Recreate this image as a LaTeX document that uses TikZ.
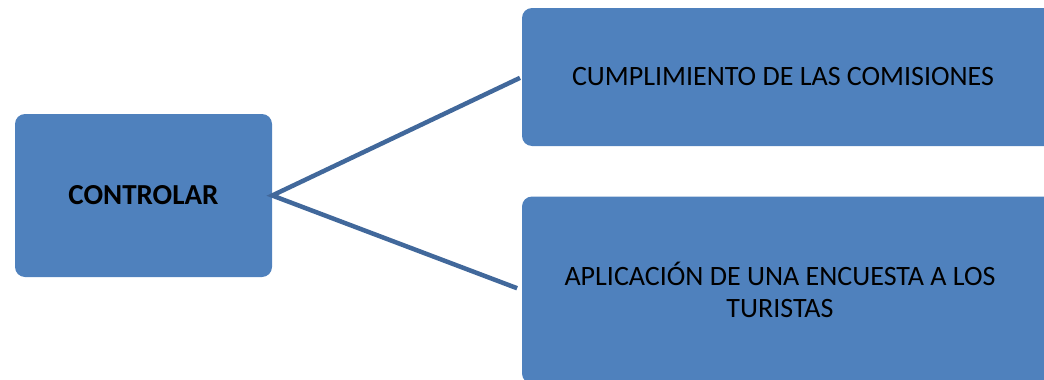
\documentclass[tikz,border=0pt]{standalone}
\usepackage{fontspec}
\setmainfont{Carlito}
\definecolor{boxblue}{HTML}{4F81BD}
\definecolor{lineblue}{HTML}{41689B}
\begin{document}
\begin{tikzpicture}[x=1pt,y=-1pt,
  box/.style={rectangle, rounded corners=10pt, fill=boxblue, draw=none, inner sep=0pt},
  txt/.style={font=\fontsize{28}{32}\selectfont, align=center, text=black, inner sep=0pt},
  conn/.style={draw=lineblue, line width=4.5pt, line join=miter}]
\useasboundingbox (0,0) rectangle (1044,380);
\node[box, minimum width=257pt, minimum height=163pt] (ctrl) at (143.5,195.5) {};
\node[txt, font=\fontsize{29}{32}\selectfont\bfseries] (ctrltxt) at (143.5,195.5) {CONTROLAR};
\node[box, minimum width=534pt, minimum height=138pt] (top) at (789,77) {};
\node[txt] (toptxt) at (783,77) {CUMPLIMIENTO DE LAS COMISIONES};
\node[box, minimum width=534pt, minimum height=187pt] (bot) at (789,290) {};
\node[txt] (bottxt) at (780,290) {APLICACIÓN DE UNA ENCUESTA A LOS\\TURISTAS};
\draw[conn, shorten <=2pt, shorten >=5pt] (top.west) -- (ctrl.east) -- (bot.west);
\end{tikzpicture}
\end{document}
